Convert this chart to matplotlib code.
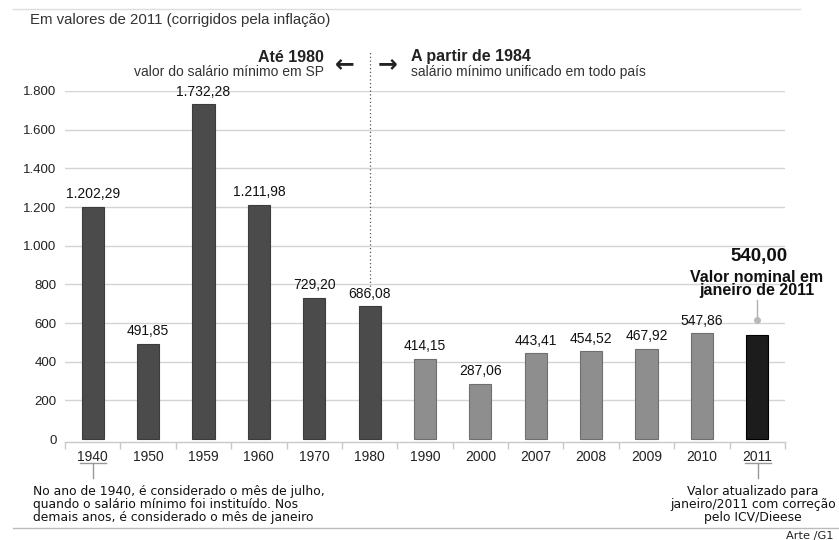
import matplotlib
matplotlib.use("Agg")
import matplotlib.pyplot as plt
import numpy as np

# ── data ──────────────────────────────────────────────────────────────────────
years = ["1940", "1950", "1959", "1960", "1970", "1980",
         "1990", "2000", "2007", "2008", "2009", "2010", "2011"]
values = [1202.29, 491.85, 1732.28, 1211.98, 729.20, 686.08,
          414.15, 287.06, 443.41, 454.52, 467.92, 547.86, 540.00]
value_labels = ["1.202,29", "491,85", "1.732,28", "1.211,98", "729,20", "686,08",
                "414,15", "287,06", "443,41", "454,52", "467,92", "547,86", ""]
y_ticks = [0, 200, 400, 600, 800, 1000, 1200, 1400, 1600, 1800]
y_tick_labels = ["0", "200", "400", "600", "800", "1.000", "1.200", "1.400", "1.600", "1.800"]

plt.rcParams["font.family"] = ["Liberation Sans", "DejaVu Sans"]

W, H = 839, 540
fig = plt.figure(figsize=(W / 100, H / 100), dpi=100)


def fx(px):
    return px / W


def fy(py):
    return 1 - py / H


# axes: x from 65..785 px, y from 442 (bottom) to 91 (1800)
ax = fig.add_axes([fx(65), fy(442), fx(785) - fx(65), fy(91) - fy(442)])
ppu = (439 - 91) / 1800.0
ax.set_ylim(-(442 - 439) / ppu, 1800)
ax.set_xlim(-0.5, 12.5)

x = np.arange(len(years))
colors = ["#4b4b4b"] * 6 + ["#8e8e8e"] * 6 + ["#1c1c1c"]
edges = ["#3c3c3c"] * 6 + ["#6f6f6f"] * 6 + ["#000000"]
ax.bar(x, values, width=0.4, color=colors, edgecolor=edges, linewidth=0.8, zorder=3)

for xi, v, lab in zip(x, values, value_labels):
    if lab:
        ax.annotate(lab, (xi, v), xytext=(0, 4), textcoords="offset points",
                    ha="center", va="bottom", fontsize=10, color="#111111", zorder=4)

# grid and axes styling
for t in y_ticks[1:]:
    ax.axhline(t, color="#d4d4d4", lw=1, zorder=1)
for s in ["top", "right", "left"]:
    ax.spines[s].set_visible(False)
ax.spines["bottom"].set_color("#c8c8c8")
ax.spines["bottom"].set_linewidth(1)

ax.set_yticks(y_ticks)
ax.set_yticklabels(y_tick_labels, fontsize=9.5, color="#222222")
ax.tick_params(axis="y", length=0, pad=6)

ax.set_xticks(x)
ax.set_xticklabels(years, fontsize=10, color="#222222")
ax.set_xticks(np.arange(-0.5, 13, 1), minor=True)
ax.tick_params(axis="x", which="major", length=0, pad=6)
ax.tick_params(axis="x", which="minor", length=5, color="#c8c8c8", width=1)

# dotted separator between 1980 and 1990 periods
ax.plot([5, 5], [686.08 + 85, (439 - 52) / ppu], ls=(0, (1, 2)), color="#555555",
        lw=0.9, clip_on=False, zorder=2)

# top header annotations
fig.text(fx(30), fy(20), "Em valores de 2011 (corrigidos pela inflação)",
         fontsize=10.8, color="#333333", va="center", ha="left")
fig.text(fx(324), fy(57), "Até 1980", fontsize=11.5, fontweight="bold",
         color="#222222", ha="right", va="center")
fig.text(fx(324), fy(72), "valor do salário mínimo em SP", fontsize=10,
         color="#333333", ha="right", va="center")
fig.text(fx(345), fy(64), "←", fontsize=17, fontweight="bold", color="#222222",
         ha="center", va="center", family="DejaVu Sans")
fig.text(fx(388), fy(64), "→", fontsize=17, fontweight="bold", color="#222222",
         ha="center", va="center", family="DejaVu Sans")
fig.text(fx(411), fy(57), "A partir de 1984", fontsize=11.5, fontweight="bold",
         color="#222222", ha="left", va="center")
fig.text(fx(411), fy(72), "salário mínimo unificado em todo país", fontsize=10,
         color="#333333", ha="left", va="center")

# 2011 annotation
fig.text(fx(759), fy(257), "540,00", fontsize=13.5, fontweight="bold",
         color="#111111", ha="center", va="center")
fig.text(fx(757), fy(277), "Valor nominal em", fontsize=11.5, fontweight="bold",
         color="#111111", ha="center", va="center")
fig.text(fx(757), fy(291), "janeiro de 2011", fontsize=11.5, fontweight="bold",
         color="#111111", ha="center", va="center")
ax.plot([12, 12], [(439 - 300) / ppu, (439 - 320) / ppu], color="#b0b0b0",
        lw=1, clip_on=False, zorder=2)
ax.plot([12], [(439 - 320) / ppu], marker="o", ms=4, color="#b8b8b8",
        clip_on=False, zorder=2)

# bracket marks under 1940 and 2011 labels
for cx in (93, 758):
    fig.add_artist(plt.Line2D([fx(cx - 13), fx(cx + 13)], [fy(463), fy(463)],
                              color="#999999", lw=1))
    fig.add_artist(plt.Line2D([fx(cx), fx(cx)], [fy(463), fy(478)],
                              color="#999999", lw=1))

note_left = ("No ano de 1940, é considerado o mês de julho,\n"
             "quando o salário mínimo foi instituído. Nos\n"
             "demais anos, é considerado o mês de janeiro")
fig.text(fx(33), fy(485), note_left, fontsize=8.9, family="DejaVu Sans",
         color="#111111", ha="left", va="top", linespacing=1.0)
note_right = ("Valor atualizado para\n"
              "janeiro/2011 com correção\n"
              "pelo ICV/Dieese")
fig.text(fx(753), fy(485), note_right, fontsize=8.9, family="DejaVu Sans",
         color="#111111", ha="center", va="top", linespacing=1.0)

# frame lines top and bottom
fig.add_artist(plt.Line2D([fx(13), fx(800)], [fy(9), fy(9)], color="#dddddd", lw=1))
fig.add_artist(plt.Line2D([fx(13), fx(839)], [fy(528), fy(528)], color="#bbbbbb", lw=1))
fig.text(fx(834), fy(536), "Arte /G1", fontsize=8.2, family="DejaVu Sans",
         color="#222222", ha="right", va="center")

fig.savefig("out.png", dpi=100)
